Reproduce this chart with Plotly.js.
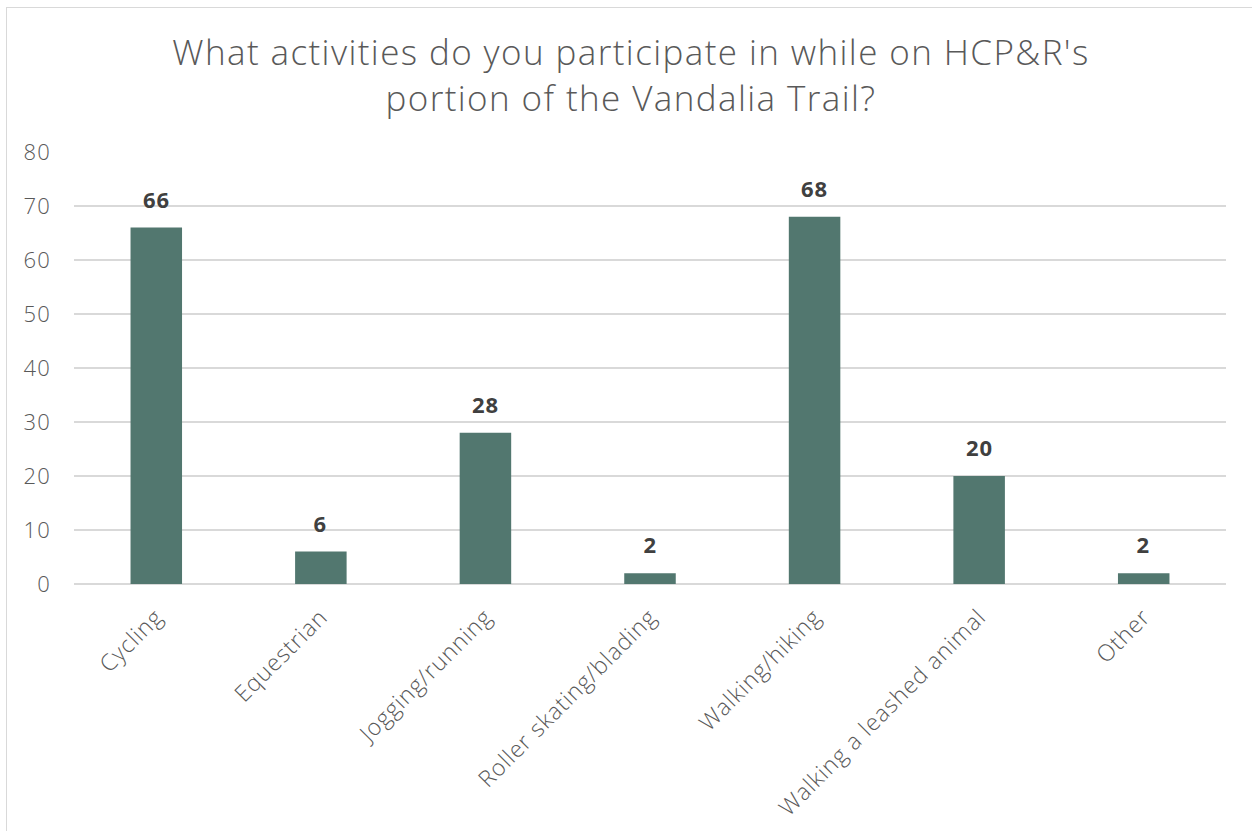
<!DOCTYPE html>
<html><head><meta charset="utf-8">
<script src="https://cdn.plot.ly/plotly-3.0.1.min.js"></script>
<style>
html,body{margin:0;padding:0;background:#fff;}
#frame{position:absolute;left:6px;top:7px;width:1260px;height:840px;border:1.5px solid #d9d9d9;box-sizing:border-box;}
#chart{position:absolute;left:0;top:0;width:1252px;height:831px;}
#chart .gtitle{letter-spacing:1.4px;}
#chart .xtick text{letter-spacing:0.9px;}
#chart .ytick text{letter-spacing:1.2px;}
#chart .annotation-text{letter-spacing:1px;}
</style></head>
<body>
<div id="frame"></div>
<div id="chart"></div>
<script>
const categories = ["Cycling","Equestrian","Jogging/running","Roller skating/blading","Walking/hiking","Walking a leashed animal","Other"];
const counts = [66, 6, 28, 2, 68, 20, 2];
const yTicks = [0,10,20,30,40,50,60,70,80];

const FONT = "'Open Sans', Lato, sans-serif";

const trace = {
  type: 'bar',
  x: categories,
  y: counts,
  marker: {color: '#52776f', line: {color: '#52776f', width: 0}},
  hoverinfo: 'x+y'
};

const annotations = categories.map((c, i) => ({
  x: c, y: counts[i], xref: 'x', yref: 'y',
  text: '<b>' + counts[i] + '</b>',
  showarrow: false, yanchor: 'bottom', yshift: 12,
  font: {family: FONT, size: 22, color: '#404040'}
}));

const layout = {
  width: 1252, height: 831,
  margin: {l: 74, r: 26, t: 152, b: 247},
  paper_bgcolor: 'rgba(0,0,0,0)',
  plot_bgcolor: '#fff',
  bargap: 0.687,
  showlegend: false,
  title: {
    text: "What activities do you participate in while on HCP&R's<br>portion of the Vandalia Trail?",
    font: {family: FONT, size: 35, color: '#595959', weight: 300},
    x: 0.504, xanchor: 'center',
    y: 1 - 65/831, yref: 'container', yanchor: 'middle'
  },
  xaxis: {
    type: 'category',
    tickangle: -45,
    tickfont: {family: FONT, size: 23, color: '#595959', weight: 300},
    showgrid: false, showline: false, zeroline: false,
    ticks: '', ticklen: 0, ticklabelstandoff: 14
  },
  yaxis: {
    range: [0, 80],
    tickvals: yTicks,
    ticktext: yTicks.map(String),
    tickfont: {family: FONT, size: 22, color: '#595959', weight: 300},
    showgrid: true, gridcolor: '#d9d9d9', gridwidth: 1.5,
    zeroline: true, zerolinecolor: '#d9d9d9', zerolinewidth: 1.5,
    showline: false, ticks: '', ticklabelstandoff: 22
  },
  annotations: annotations
};

Plotly.newPlot('chart', [trace], layout, {displayModeBar: false, staticPlot: true});
</script>
</body></html>
